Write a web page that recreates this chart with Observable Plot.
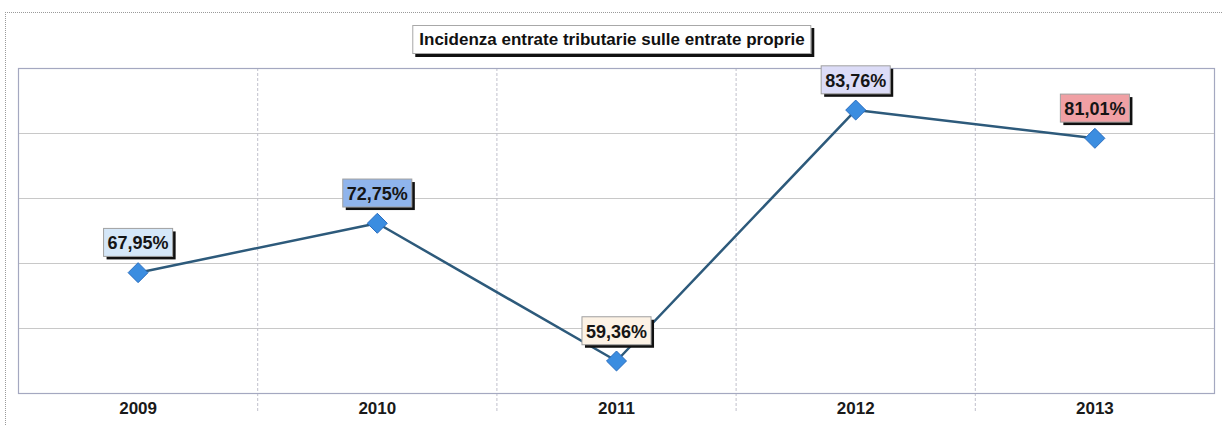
<!DOCTYPE html>
<html><head><meta charset="utf-8">
<script src="https://cdn.jsdelivr.net/npm/d3@7"></script>
<script src="https://cdn.jsdelivr.net/npm/@observablehq/plot@0.6"></script>
<style>
html,body{margin:0;padding:0;background:#fff;}
#wrap{position:relative;width:1223px;height:425px;overflow:hidden;font-family:"Liberation Sans",Arial,sans-serif;}
#wrap svg{position:absolute;left:0;top:0;}
#outer{position:absolute;left:5px;top:12px;width:1216px;height:420px;border-left:1px dotted #9a9a9a;border-top:1px dotted #9a9a9a;}
#title{position:absolute;top:25px;left:612px;transform:translateX(-50%);white-space:nowrap;
  font:bold 17px "Liberation Sans",Arial,sans-serif;color:#111;background:#fff;
  border:1px solid #a8a8a8;box-shadow:3px 3px 0 #111;padding:4px 6px 3px 6px;z-index:2;}
</style>
</head><body>
<div id="wrap"><div id="outer"></div><div id="title"></div></div>
<script>
// ---- data ----
const title = "Incidenza entrate tributarie sulle entrate proprie";
const years = [2009, 2010, 2011, 2012, 2013];
const values = [67.95, 72.75, 59.36, 83.76, 81.01];

// ---- style ----
const labelFills = ["#d5e7f8", "#8fb4ec", "#fcf2e5", "#dcdcf7", "#f0a0a4"];
const yDomain = [56.2, 87.8];

const data = years.map((y, i) => ({year: y, value: values[i]}));
const it = d3.formatLocale({decimal: ",", thousands: ".", grouping: [3], currency: ["€", ""]});
const fmt = it.format(".2f");
const gridY = d3.range(1, 5).map(i => yDomain[0] + i * (yDomain[1] - yDomain[0]) / 5);
const sepX = years.slice(0, -1).map(y => y + 0.5);

document.getElementById("title").textContent = title;

const chart = Plot.plot({
  width: 1223,
  height: 425,
  marginTop: 68,
  marginBottom: 32,
  marginLeft: 18,
  marginRight: 9,
  style: {background: "transparent", fontFamily: "'Liberation Sans', Arial, sans-serif"},
  x: {domain: [years[0] - 0.5, years[years.length - 1] + 0.5], axis: null},
  y: {domain: yDomain, axis: null},
  marks: [
    Plot.ruleY(gridY, {stroke: "#c8c8c8", strokeWidth: 1}),
    Plot.ruleX(sepX, {stroke: "#c0c0cc", strokeWidth: 1, strokeDasharray: "3,2", insetBottom: -20}),
    Plot.frame({stroke: "#a4a8c0", strokeWidth: 1.2}),
    Plot.axisX({ticks: years, tickFormat: d => String(d), tickSize: 0, tickPadding: 8, label: null,
      fontSize: 17, fontWeight: "bold", color: "#1a1a1a"}),
    Plot.line(data, {x: "year", y: "value", stroke: "#2d5a7b", strokeWidth: 2.5}),
    Plot.dot(data, {x: "year", y: "value", symbol: "diamond2", r: 9, fill: "#3b8de0", stroke: "#2a6dbf", strokeWidth: 1}),
    Plot.text(data, {x: "year", y: "value", text: d => fmt(d.value) + "%", dy: -29,
      fontSize: 18, fontWeight: "bold", fill: "#151515"})
  ]
});

document.getElementById("wrap").appendChild(chart);

// label boxes behind the value texts
const groups = chart.querySelectorAll('g[aria-label="text"]');
const lg = groups[groups.length - 1];
const NS = "http://www.w3.org/2000/svg";
lg.querySelectorAll("text").forEach((t, i) => {
  const b = t.getBBox();
  const padX = 4, padY = 5;
  const tr = t.getAttribute("transform");
  const mk = (dx, dy, fill, stroke) => {
    const r = document.createElementNS(NS, "rect");
    r.setAttribute("x", b.x - padX + dx);
    r.setAttribute("y", b.y - padY + dy);
    r.setAttribute("width", b.width + 2 * padX);
    r.setAttribute("height", b.height + 2 * padY - 2);
    r.setAttribute("fill", fill);
    if (stroke) { r.setAttribute("stroke", stroke); r.setAttribute("stroke-width", 1); }
    if (tr) r.setAttribute("transform", tr);
    lg.insertBefore(r, t);
  };
  mk(3, 3, "#111", null);
  mk(0, 0, labelFills[i], "#a0a0a0");
});
</script>
</body></html>
